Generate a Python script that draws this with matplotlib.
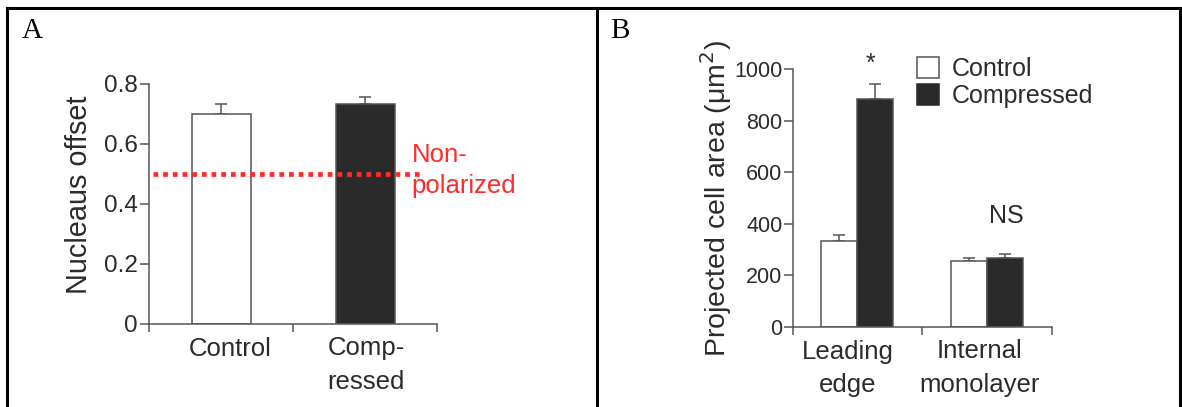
import matplotlib
matplotlib.use("Agg")
import matplotlib.pyplot as plt
import matplotlib.transforms as mtransforms
from matplotlib.patches import Patch
from matplotlib.lines import Line2D
import numpy as np

# Panel A data
groups_a = ['Control', 'Comp-\nressed']
offset_mean = [0.70, 0.733]
offset_err = [0.034, 0.023]
non_polarized = 0.5

# Panel B data
regions_b = ['Leading\nedge', 'Internal\nmonolayer']
control_area = [333, 255]
compressed_area = [883, 267]
control_err = [25, 11]
compressed_err = [61, 17]
series_b = ['Control', 'Compressed']

W, H = 1182, 407
plt.rcParams['font.family'] = ['Liberation Sans', 'DejaVu Sans']
TXT = '#2b2b2b'
AXC = '#555555'
DARK = '#2a2a2a'
RED = '#ff2a2a'

fig = plt.figure(figsize=(W / 100, H / 100), dpi=100)


def px_axes(left, right, top, bottom):
    return fig.add_axes([left / W, 1 - bottom / H, (right - left) / W, (bottom - top) / H])


def style(ax, tick_size, tick_pad):
    for s in ['top', 'right']:
        ax.spines[s].set_visible(False)
    for s in ['left', 'bottom']:
        ax.spines[s].set_color(AXC)
        ax.spines[s].set_linewidth(1.1)
    ax.tick_params(axis='y', direction='out', length=6.5, width=1.1, color=AXC,
                   labelsize=tick_size, labelcolor=TXT, pad=tick_pad)
    ax.tick_params(axis='x', which='major', length=0, labelsize=18.5, labelcolor=TXT, pad=9)
    ax.tick_params(axis='x', which='minor', direction='out', length=6, width=1.1, color=AXC)
    ax.set_xticks([-0.5, 0.5, 1.5], minor=True)
    ax.set_xlim(-0.5, 1.5)


def shift_labels(ax, dxs):
    for lab, dx in zip(ax.get_xticklabels(), dxs):
        lab.set_transform(lab.get_transform() + mtransforms.ScaledTranslation(dx / 100, 0, fig.dpi_scale_trans))


# ---- Panel A ----
axa = px_axes(149.3, 437, 84, 324)
xa = np.arange(len(groups_a))
axa.bar(xa, offset_mean, width=0.41, color=['white', DARK], edgecolor=AXC, linewidth=1.1, zorder=2)
axa.errorbar(xa, offset_mean, yerr=[[0, 0], offset_err], fmt='none', ecolor=AXC,
             elinewidth=1.1, capsize=4.5, capthick=1.1, zorder=1)
axa.set_ylim(0, 0.8)
axa.set_yticks([0, 0.2, 0.4, 0.6, 0.8])
axa.set_yticklabels(['0', '0.2', '0.4', '0.6', '0.8'])
style(axa, 17.5, 2)
axa.set_xticks(xa)
axa.set_xticklabels(groups_a, linespacing=1.5)
shift_labels(axa, [9, 1])
axa.set_ylabel('Nucleaus offset', fontsize=20.8, color=TXT, va='baseline')
axa.yaxis.set_label_coords(-0.2176, 0.5375)
axa.axhline(non_polarized, xmin=0.012, xmax=0.955, color=RED, linewidth=3.4,
            linestyle=(0, (1, 1.05)), zorder=3)
axa.text(0.912, 0.437, 'Non-\npolarized', transform=axa.get_yaxis_transform(),
         color=RED, fontsize=18.5, va='baseline', ha='left', linespacing=1.36, clip_on=False)

# ---- Panel B ----
axb = px_axes(792.7, 1051.7, 69.3, 327)
xb = np.arange(len(regions_b))
bw = 0.278
axb.bar(xb - bw / 2, control_area, width=bw, color='white', edgecolor=AXC, linewidth=1.1, zorder=2)
axb.bar(xb + bw / 2, compressed_area, width=bw, color=DARK, edgecolor=AXC, linewidth=1.1, zorder=2)
axb.errorbar(xb - bw / 2, control_area, yerr=[[0, 0], control_err], fmt='none', ecolor=AXC,
             elinewidth=1.1, capsize=4.5, capthick=1.1, zorder=1)
axb.errorbar(xb + bw / 2, compressed_area, yerr=[[0, 0], compressed_err], fmt='none', ecolor=AXC,
             elinewidth=1.1, capsize=4.5, capthick=1.1, zorder=1)
axb.set_ylim(0, 1000)
axb.set_yticks([0, 200, 400, 600, 800, 1000])
style(axb, 15.5, 1)
axb.set_xticks(xb)
axb.set_xticklabels(regions_b, linespacing=1.5)
shift_labels(axb, [-10, -7])
axb.set_ylabel('Projected cell area (\u03bcm$^2$)', fontsize=20.5, color=TXT, va='baseline')
axb.yaxis.set_label_coords(-0.2575, 0.5)
axb.text(xb[0] + bw / 2 - 0.04, 1020, '*', fontsize=18, color=TXT, ha='center', va='center', clip_on=False)
axb.text(xb[1] + 0.15, 432, 'NS', fontsize=18, color=TXT, ha='center', va='center')

handles = [Patch(facecolor='white', edgecolor=AXC, linewidth=1.1),
           Patch(facecolor=DARK, edgecolor=DARK, linewidth=1.1)]
fig.legend(handles, series_b, loc='upper left', bbox_to_anchor=(916.5 / W, 1 - 57 / H),
           frameon=False, fontsize=18, handlelength=0.88, handleheight=0.88,
           handletextpad=0.52, labelspacing=0.12, borderpad=0, borderaxespad=0,
           labelcolor=TXT)

# ---- panel letters and frame ----
fig.text(22 / W, 1 - 38 / H, 'A', family='Liberation Serif', fontsize=21, color='black', va='baseline')
fig.text(610 / W, 1 - 38 / H, 'B', family='Liberation Serif', fontsize=21, color='black', va='baseline')

for xs, ys in [([6.5, 1180], [7.5, 7.5]), ([6.5, 6.5], [7.5, 407]), ([597, 597], [7.5, 407]),
               ([1180, 1180], [7.5, 407])]:
    fig.add_artist(Line2D([x / W for x in xs], [1 - y / H for y in ys], color='black', linewidth=2.2,
                          transform=fig.transFigure, solid_capstyle='projecting'))

fig.savefig('out.png', dpi=100)
